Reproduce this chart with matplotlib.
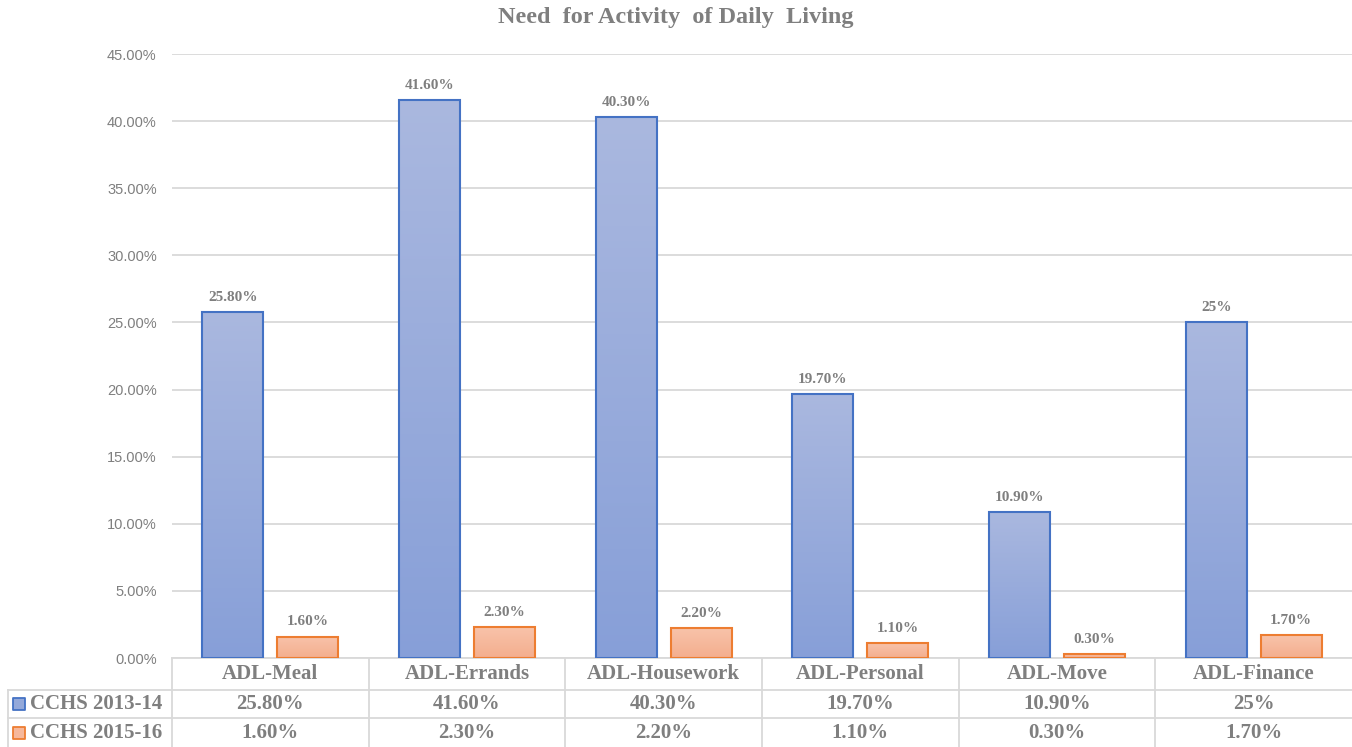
import numpy as np
import matplotlib.pyplot as plt
from matplotlib.colors import LinearSegmentedColormap
from matplotlib.transforms import blended_transform_factory

categories = ['ADL-Meal', 'ADL-Errands', 'ADL-Housework', 'ADL-Personal', 'ADL-Move', 'ADL-Finance']
series_names = ['CCHS 2013-14', 'CCHS 2015-16']
cchs_2013 = [25.8, 41.6, 40.3, 19.7, 10.9, 25.0]
cchs_2015 = [1.6, 2.3, 2.2, 1.1, 0.3, 1.7]
labels_2013 = ['25.80%', '41.60%', '40.30%', '19.70%', '10.90%', '25%']
labels_2015 = ['1.60%', '2.30%', '2.20%', '1.10%', '0.30%', '1.70%']

GRAY = '#7f7f7f'
GRID = '#d9d9d9'
SERIF = 'Liberation Serif'

fig = plt.figure(figsize=(13.52, 7.47), dpi=100)
ax = fig.add_axes([172 / 1352, 1 - 658 / 747, 1 - 172 / 1352, (658 - 54) / 747])

x = np.arange(len(categories))
w = 0.31
off = 0.19

def gradient_bars(xs, vals, top, bottom, edge):
    bars = ax.bar(xs, vals, w, facecolor='none', edgecolor=edge, linewidth=1.5, zorder=3)
    cmap = LinearSegmentedColormap.from_list('g', [bottom, top])
    grad = np.linspace(0, 1, 256).reshape(-1, 1)
    for b in bars:
        x0, y0 = b.get_x(), b.get_y()
        im = ax.imshow(grad, cmap=cmap, origin='lower', aspect='auto', zorder=2,
                       extent=[x0, x0 + b.get_width(), y0, y0 + b.get_height()])
        im.set_clip_path(b)
    return bars

b1 = gradient_bars(x - off, cchs_2013, '#aab8df', '#879fd8', '#4472c4')
b2 = gradient_bars(x + off, cchs_2015, '#f8c3aa', '#f4ae8e', '#ed7d31')

for bars, labs in ((b1, labels_2013), (b2, labels_2015)):
    for b, t in zip(bars, labs):
        ax.text(b.get_x() + b.get_width() / 2, b.get_height() + 0.6, t, ha='center', va='bottom',
                fontsize=11, fontweight='bold', color=GRAY, family=SERIF)

ax.set_xlim(-0.5, len(categories) - 0.5)
ax.set_ylim(0, 45)
ax.set_yticks(np.arange(0, 46, 5))
ax.set_yticklabels(['%.2f%%' % v for v in np.arange(0, 46, 5)], family='Liberation Sans',
                   fontsize=10.5, color=GRAY)
ax.tick_params(axis='y', length=0, pad=11)
ax.set_xticks([])
ax.grid(axis='y', color=GRID, linewidth=1.3, zorder=0)
for s in ax.spines.values():
    s.set_visible(False)

fig.text(0.5, 1 - 18 / 747, 'Need  for Activity  of Daily  Living', ha='center', va='center',
         fontsize=17.5, fontweight='bold', color=GRAY, family=SERIF)

# data table under the axis
tr = blended_transform_factory(ax.transData, ax.transAxes)
px = 1 / 604
left = -0.5 - 164 / (1180 / 6)
rows = [0, -32 * px, -60 * px, -89 * px]
kw = dict(transform=tr, clip_on=False, color=GRID, linewidth=1.3)
ax.plot([-0.5, 5.5], [rows[0], rows[0]], **kw)
for r in rows[1:3]:
    ax.plot([left, 5.5], [r, r], **kw)
ax.plot([left, left], [rows[1], rows[3]], **kw)
for i in range(len(categories)):
    ax.plot([i - 0.5, i - 0.5], [rows[0], rows[3]], **kw)

tkw = dict(transform=tr, ha='center', va='center', fontweight='bold', color=GRAY, family=SERIF,
           clip_on=False)
for i, c in enumerate(categories):
    ax.text(i, (rows[0] + rows[1]) / 2, c, fontsize=15, **tkw)
    ax.text(i, (rows[1] + rows[2]) / 2, labels_2013[i], fontsize=15, **tkw)
    ax.text(i, (rows[2] + rows[3]) / 2, labels_2015[i], fontsize=15, **tkw)

keys = [('#94a9da', '#4472c4'), ('#f6b89b', '#ed7d31')]
for j, name in enumerate(series_names):
    yc = (rows[j + 1] + rows[j + 2]) / 2
    ax.scatter([left + 0.058], [yc], marker='s', s=80, facecolor=keys[j][0], edgecolor=keys[j][1],
               linewidth=1.3, transform=tr, clip_on=False)
    ax.text(left + 0.11, yc, name, transform=tr, ha='left', va='center', fontsize=15,
            fontweight='bold', color=GRAY, family=SERIF, clip_on=False)

fig.savefig('out.png', dpi=100)
